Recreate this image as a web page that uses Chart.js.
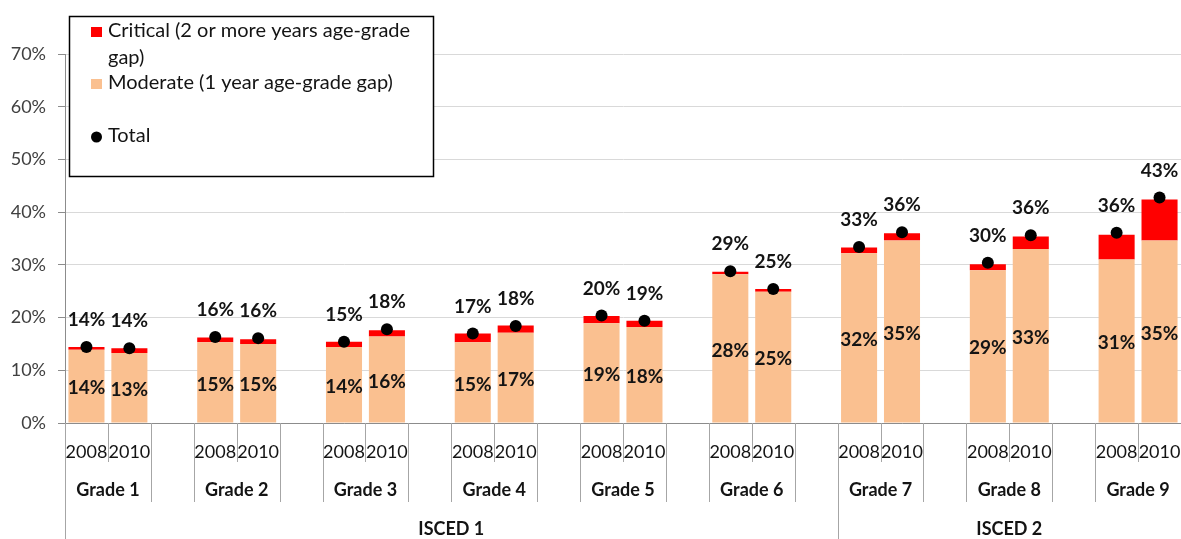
<!DOCTYPE html>
<html>
<head>
<meta charset="utf-8">
<script src="https://cdn.jsdelivr.net/npm/chart.js@4.4.1/dist/chart.umd.min.js"></script>
<style>
  html, body { margin: 0; padding: 0; background: #fff; }
</style>
</head>
<body>
<canvas id="ageGrade" width="1181" height="539"></canvas>
<script>
var grades = ["Grade 1", "Grade 2", "Grade 3", "Grade 4", "Grade 5", "Grade 6", "Grade 7", "Grade 8", "Grade 9"];
var years = ["2008", "2010"];
var levelNames = ["ISCED 1", "ISCED 2"];
var levelSizes = [6, 3];   // grades in each level

// % of pupils, order: Grade 1 2008, Grade 1 2010, Grade 2 2008 ...
var moderate = [13.9, 13.3, 15.3, 15.0, 14.4, 16.4, 15.3, 17.1, 18.9, 18.2, 28.2, 24.9, 32.2, 34.6, 29.0, 33.0, 31.0, 34.6];
var critical = [0.5, 0.9, 0.9, 0.9, 1.0, 1.2, 1.7, 1.4, 1.4, 1.2, 0.5, 0.5, 1.1, 1.4, 1.1, 2.4, 4.7, 7.8];
var total    = [14.4, 14.2, 16.3, 16.1, 15.4, 17.8, 17.0, 18.4, 20.4, 19.4, 28.8, 25.4, 33.4, 36.2, 30.4, 35.6, 36.1, 42.8];
var yTicks = [0, 10, 20, 30, 40, 50, 60, 70];

// one slot per year, an empty slot between grades
var labels = [], slotOf = [];
grades.forEach(function (g, gi) {
  years.forEach(function (yr) { slotOf.push(labels.length); labels.push(yr); });
  if (gi < grades.length - 1) labels.push('');
});
function spread(values) {
  var out = labels.map(function () { return null; });
  values.forEach(function (v, i) { out[slotOf[i]] = v; });
  return out;
}

var textColor = '#141414';
var lineGray = '#a6a6a6';

var valueLabels = {
  id: 'valueLabels',
  afterDatasetsDraw: function (chart) {
    var c = chart.ctx;
    c.save();
    c.font = 'bold 19px Lato';
    c.fillStyle = textColor;
    c.textAlign = 'center';
    c.textBaseline = 'middle';
    chart.getDatasetMeta(0).data.forEach(function (el, i) {
      var v = chart.data.datasets[0].data[i];
      if (v == null) return;
      c.fillText(Math.round(v) + '%', el.x, (el.y + el.base) / 2 + 2);
    });
    chart.getDatasetMeta(2).data.forEach(function (el, i) {
      var v = chart.data.datasets[2].data[i];
      if (v == null) return;
      c.fillText(Math.round(v) + '%', el.x, el.y - 27);
    });
    c.restore();
  }
};

var axisGroups = {
  id: 'axisGroups',
  afterDraw: function (chart) {
    var c = chart.ctx, xs = chart.scales.x, area = chart.chartArea;
    var slotW = xs.width / labels.length;
    var bottom = chart.height;
    c.save();
    c.strokeStyle = lineGray;
    c.lineWidth = 1;
    function vline(i, y2) {
      var x = Math.round(xs.left + i * slotW) + 0.5;
      c.beginPath(); c.moveTo(x, area.bottom); c.lineTo(x, y2); c.stroke();
    }
    // grade and year separators
    grades.forEach(function (g, gi) {
      var s = gi * 3;
      vline(s, 502);
      vline(s + 1, 462);
      vline(s + 2, 502);
    });
    // level separators
    var start = 0;
    levelSizes.forEach(function (n) { vline(start * 3, bottom); start += n; });

    c.fillStyle = textColor;
    c.textAlign = 'center';
    c.textBaseline = 'middle';
    c.font = 'bold 18px Lato';
    grades.forEach(function (g, gi) {
      c.fillText(g, xs.left + (gi * 3 + 1) * slotW, 490);
    });
    start = 0;
    levelSizes.forEach(function (n, li) {
      var x0 = xs.left + start * 3 * slotW;
      var x1 = Math.min(xs.left + (start + n) * 3 * slotW, xs.right);
      c.fillText(levelNames[li], (x0 + x1) / 2, 529);
      start += n;
    });
    c.restore();
  }
};

var boxLegend = {
  id: 'boxLegend',
  afterDraw: function (chart) {
    var c = chart.ctx, ds = chart.data.datasets;
    c.save();
    c.fillStyle = '#fff';
    c.fillRect(69, 16, 364, 160);
    c.strokeStyle = '#000';
    c.lineWidth = 1.5;
    c.strokeRect(69.5, 16.5, 364, 160);
    c.font = '20px Lato';
    c.textBaseline = 'middle';
    c.textAlign = 'left';

    function wrap(text, maxW) {
      var words = text.split(' '), lines = [], cur = '';
      words.forEach(function (w) {
        var t = cur ? cur + ' ' + w : w;
        if (c.measureText(t).width > maxW && cur) { lines.push(cur); cur = w; } else cur = t;
      });
      lines.push(cur);
      return lines;
    }
    var items = [
      { ds: ds[1], y: 31 },
      { ds: ds[0], y: 83 },
      { ds: ds[2], y: 136 }
    ];
    items.forEach(function (it) {
      if (it.ds.type === 'line') {
        c.fillStyle = '#000';
        c.beginPath(); c.arc(96.5, it.y + 1, 5.5, 0, Math.PI * 2); c.fill();
      } else {
        c.fillStyle = it.ds.backgroundColor;
        c.fillRect(91, it.y - 4, 11, 10);
      }
      c.fillStyle = textColor;
      wrap(it.ds.label, 315).forEach(function (ln, k) {
        c.fillText(ln, 108, it.y + k * 27);
      });
    });
    c.restore();
  }
};

new Chart(document.getElementById('ageGrade'), {
  type: 'bar',
  data: {
    labels: labels,
    datasets: [
      {
        label: 'Moderate (1 year age-grade gap)',
        data: spread(moderate),
        backgroundColor: '#FAC090',
        stack: 'bars',
        order: 2
      },
      {
        label: 'Critical (2 or more years age-grade gap)',
        data: spread(critical),
        backgroundColor: '#FF0000',
        stack: 'bars',
        order: 2
      },
      {
        type: 'line',
        label: 'Total',
        data: spread(total),
        showLine: false,
        pointRadius: 6,
        pointBackgroundColor: '#000',
        pointBorderWidth: 0,
        stack: 'total',
        order: 1
      }
    ]
  },
  options: {
    responsive: false,
    animation: false,
    events: [],
    layout: { autoPadding: false, padding: { top: 54, right: 0, bottom: 0, left: 0 } },
    categoryPercentage: 0.84,
    barPercentage: 1,
    plugins: { legend: { display: false }, tooltip: { enabled: false } },
    scales: {
      x: {
        stacked: true,
        // tick marks hidden; their length only pushes the year labels down
        grid: { display: false, drawTicks: true, tickLength: 18 },
        border: { color: '#8c8c8c' },
        ticks: {
          font: { family: 'Lato', size: 18 },
          color: textColor,
          maxRotation: 0,
          autoSkip: false,
          padding: 0
        },
        afterFit: function (scale) {
          scale.height = 116;
          scale.paddingLeft = 0;
          scale.paddingRight = 0;
        }
      },
      y: {
        stacked: true,
        min: 0,
        max: 70,
        afterBuildTicks: function (scale) {
          scale.ticks = yTicks.map(function (v) { return { value: v }; });
        },
        grid: { color: '#d9d9d9', tickLength: 7, tickColor: '#8c8c8c' },
        border: { color: '#8c8c8c' },
        ticks: {
          font: { family: 'Lato', size: 18 },
          color: '#404040',
          padding: 12,
          callback: function (v) { return v + '%'; }
        },
        afterFit: function (scale) { scale.width = 65; }
      }
    }
  },
  plugins: [valueLabels, axisGroups, boxLegend]
});
</script>
</body>
</html>
